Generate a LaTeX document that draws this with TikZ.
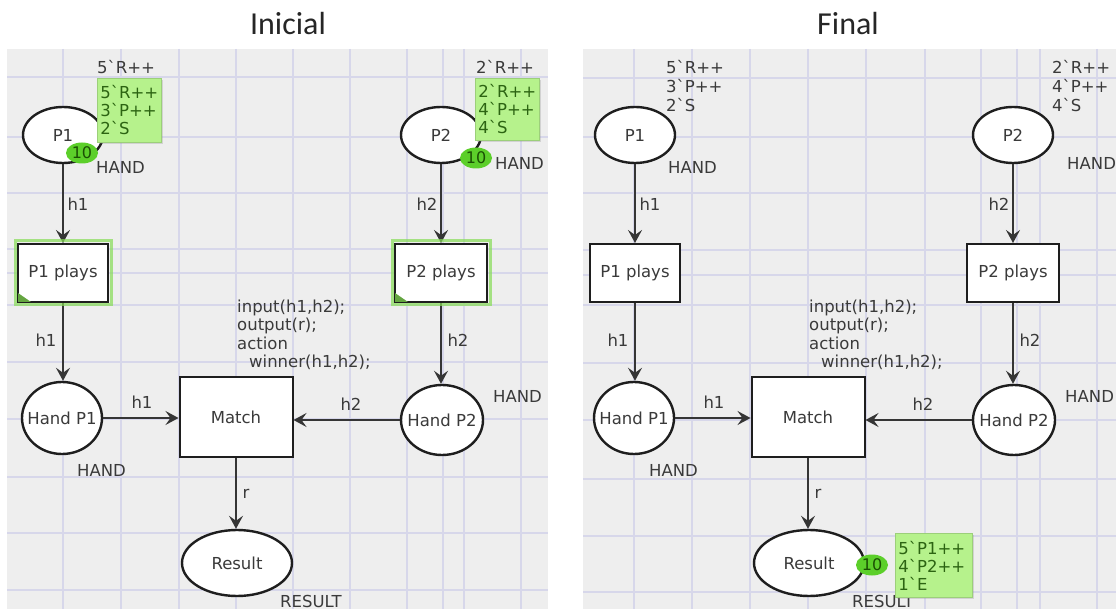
\documentclass[tikz,border=0pt]{standalone}
\usepackage{fontspec}
\usetikzlibrary{shapes.geometric,arrows.meta,shadows}
\newfontfamily\netfont{DejaVu Sans}[Ligatures=TeXOff]
\newfontfamily\headfont{Carlito}

\definecolor{panelbg}{HTML}{EEEEEE}
\definecolor{gridline}{HTML}{D7D7EA}
\definecolor{ink}{HTML}{1E1E1E}
\definecolor{textgray}{HTML}{3A3A3A}
\definecolor{tokenfill}{HTML}{B6F28C}
\definecolor{tokenedge}{HTML}{9CCF7A}
\definecolor{tokentext}{HTML}{2C6412}
\definecolor{dotfill}{HTML}{5CCF2A}
\definecolor{dottext}{HTML}{1B5004}
\definecolor{enabled}{HTML}{86DC55}

\newcommand\zw[1]{\makebox[0pt]{#1}}
\newcommand\netsize{\fontsize{16.5}{18.5}\selectfont}

\tikzset{
  place/.style={ellipse, draw=ink, line width=2.4pt, fill=white, inner sep=0pt,
    minimum width=80pt, minimum height=56pt, font=\netfont\netsize, text=textgray},
  trans/.style={rectangle, draw=ink, line width=2pt, fill=white, inner sep=0pt,
    minimum width=90pt, minimum height=58pt, font=\netfont\netsize, text=textgray},
  arc/.style={draw=ink!90, line width=1.8pt, -{Stealth[length=13pt,width=14pt,inset=5pt]}},
  lab/.style={font=\netfont\netsize, text=textgray, inner sep=0pt},
  marking/.style={lab, anchor=west, align=left, font=\netfont\fontsize{16.5}{19}\selectfont},
  tokenbox/.style={rectangle, fill=tokenfill, draw=tokenedge, line width=0.8pt,
    inner sep=3pt, align=left, anchor=north west, text=tokentext,
    font=\netfont\fontsize{16.5}{18}\selectfont,
    drop shadow={shadow xshift=2pt, shadow yshift=-2pt, opacity=0.25}},
  tokendot/.style={ellipse, fill=dotfill, inner sep=0pt, minimum width=32pt,
    minimum height=21pt, font=\netfont\fontsize{16}{18}\selectfont, text=dottext},
  glowline/.style={draw=enabled, line width=3pt, opacity=0.7},
  gridrule/.style={draw=gridline, line width=1.3pt},
  heading/.style={font=\headfont\fontsize{32}{36}\selectfont, text=black!85},
}

% The net itself, shared by both panels (node names get the scope's prefix)
\newcommand\drawnet{%
  \node[place] (P1) at (63,135) {\zw{P1}};
  \node[place] (P2) at (441,135) {\zw{P2}};
  \node[trans] (T1) at (63,273) {P1 plays};
  \node[trans, minimum width=92pt] (T2) at (441,273) {P2 plays};
  \node[place, minimum height=72pt] (H1) at (62,418) {\zw{Hand P1}};
  \node[place, minimum width=82pt, minimum height=70pt] (H2) at (442,420) {\zw{Hand P2}};
  \node[trans, minimum width=113pt, minimum height=80pt] (M) at (236,417) {Match};
  \node[place, minimum width=110pt, minimum height=66pt] (Res) at (237,563) {\zw{Result}};
  % arcs
  \draw[arc] (P1.south) -- (P1.south |- T1.north);
  \draw[arc] (T1.south) -- (T1.south |- H1.north);
  \draw[arc] (P2.south) -- (P2.south |- T2.north);
  \draw[arc] (T2.south) -- (T2.south |- H2.north);
  \draw[arc] (H1.east) -- (H1.east -| M.west);
  \draw[arc] (H2.west) -- (H2.west -| M.east);
  \draw[arc] (M.south) -- (M.south |- Res.north);
  % arc inscriptions
  \node[lab] (a1) at (78,204) {h1};
  \node[lab] (a2) at (427,204) {h2};
  \node[lab] (a3) at (46,340) {h1};
  \node[lab] (a4) at (458,340) {h2};
  \node[lab] (a5) at (142,402) {h1};
  \node[lab] (a6) at (351,404) {h2};
  \node[lab] (a7) at (246,494) {r};
  % transition code segment
  \node[lab, anchor=west, align=left] (code) at (237,335)
    {input(h1,h2);\\output(r);\\action\\\hspace*{12pt}winner(h1,h2);};
  % colour sets
  \node[lab, anchor=west] (c1) at (96,167) {HAND};
  \node[lab, anchor=west] (c2) at (495,163) {HAND};
  \node[lab, anchor=west] (c3) at (77,470) {HAND};
  \node[lab, anchor=west] (c4) at (493,396) {HAND};
  \node[lab, anchor=west] (c5) at (280,601) {RESULT};
}

\begin{document}
\begin{tikzpicture}[x=1pt,y=-1pt]
\useasboundingbox (0,0) rectangle (1116,609);

% headings
\node[heading] (titleL) at (288,24) {Inicial};
\node[heading] (titleR) at (848,24) {Final};

% canvas backgrounds with guide grid
\begin{scope}
  \clip (7,49) rectangle (548,609);
  \fill[panelbg] (7,49) rectangle (548,609);
  \foreach \gx in {63,121,179,236,293,350,407,443,464,521}
    \draw[gridrule] (\gx,49) -- (\gx,609);
  \foreach \gy in {77,137,193,249,273,305,362,419,477,533,590}
    \draw[gridrule] (7,\gy) -- (548,\gy);
\end{scope}
\begin{scope}
  \clip (583,49) rectangle (1116,609);
  \fill[panelbg] (583,49) rectangle (1116,609);
  \foreach \gx in {634,692,750,808,866,925,981,1017,1040,1097}
    \draw[gridrule] (\gx,49) -- (\gx,609);
  \foreach \gy in {78,137,193,250,275,305,363,420,479,536,592}
    \draw[gridrule] (583,\gy) -- (1116,\gy);
\end{scope}

% initial state: both player transitions enabled
\begin{scope}[name prefix=L-]
  \drawnet
  \node[marking] (m1) at (97,67) {5`R++};
  \node[marking] (m2) at (476,67) {2`R++};
  \foreach \t in {T1,T2} {
    \draw[glowline] ([shift={(-2pt,-2pt)}]\t.south west) rectangle ([shift={(2pt,2pt)}]\t.north east);
    \fill[enabled!75!black] ([shift={(1pt,1pt)}]\t.south west) -- ++(0pt,9pt) -- ++(13pt,-9pt) -- cycle;
  }
  \node[tokenbox, minimum width=64pt, minimum height=64pt, text width=58pt] (k1) at (97,78)
    {5`R++\\3`P++\\2`S};
  \node[tokenbox, minimum width=64pt, minimum height=62pt, text width=58pt] (k2) at (475,78)
    {2`R++\\4`P++\\4`S};
  \node[tokendot] (d1) at (82,153) {10};
  \node[tokendot] (d2) at (476,158) {10};
\end{scope}

% final state: ten results collected
\begin{scope}[xshift=572pt, name prefix=R-]
  \drawnet
  \node[marking] (m1) at (94,86) {5`R++\\3`P++\\2`S};
  \node[marking] (m2) at (480,86) {2`R++\\4`P++\\4`S};
  \node[tokendot] (d3) at (300,565) {10};
  \node[tokenbox, minimum width=77pt, minimum height=64pt, text width=71pt] (k3) at (323,533)
    {5`P1++\\4`P2++\\1`E};
\end{scope}
\end{tikzpicture}
\end{document}
